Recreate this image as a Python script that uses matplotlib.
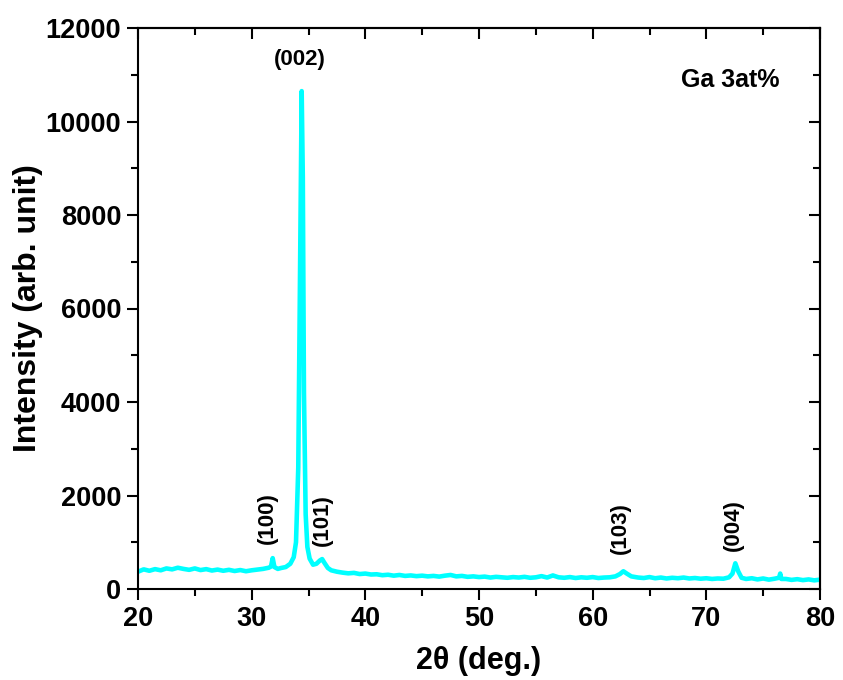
"""XRD pattern of Ga 3at% doped film, redrawn with matplotlib."""

import matplotlib
matplotlib.use('Agg')
import matplotlib.pyplot as plt
from matplotlib.ticker import MultipleLocator

plt.rcParams['font.family'] = ['Liberation Sans', 'DejaVu Sans']
plt.rcParams['font.weight'] = 'bold'

# 2-theta positions (deg.) and intensities
two_theta = [
    20.0, 20.5, 21.0, 21.5, 22.0, 22.5, 23.0, 23.5, 24.0, 24.5, 25.0, 25.5,
    26.0, 26.5, 27.0, 27.5, 28.0, 28.5, 29.0, 29.5, 30.0, 30.5, 31.0, 31.5,
    31.7, 31.85, 32.0, 32.3, 32.6, 33.0, 33.4, 33.7, 33.9, 34.1, 34.25, 34.4,
    34.5, 34.6, 34.75, 34.9, 35.1, 35.4, 35.7, 36.0, 36.2, 36.4, 36.7, 37.0,
    37.5,
    38.0, 38.5, 39.0, 39.5, 40.0, 40.5, 41.0, 41.5, 42.0, 42.5, 43.0, 43.5,
    44.0, 44.5, 45.0, 45.5, 46.0, 46.5, 47.0, 47.5, 48.0, 48.5, 49.0, 49.5,
    50.0, 50.5, 51.0, 51.5, 52.0, 52.5, 53.0, 53.5, 54.0, 54.5, 55.0, 55.5,
    56.0, 56.5, 57.0, 57.5, 58.0, 58.5, 59.0, 59.5, 60.0, 60.5, 61.0, 61.5,
    62.0, 62.4, 62.7, 63.0, 63.4,
    64.0, 64.5, 65.0, 65.5, 66.0, 66.5, 67.0, 67.5, 68.0, 68.5, 69.0, 69.5,
    70.0, 70.5, 71.0, 71.5, 72.0, 72.3, 72.55, 72.8, 73.1,
    73.5, 74.0, 74.5, 75.0, 75.5, 76.0, 76.4, 76.5, 76.6, 77.0, 77.5, 78.0,
    78.5, 79.0, 79.5, 80.0,
]
intensity = [
    370, 420, 390, 425, 400, 440, 420, 455, 430, 410, 440, 405,
    425, 395, 415, 390, 410, 385, 405, 380, 400, 415, 430, 455,
    480, 660, 470, 430, 450, 470, 540, 680, 1000, 2600, 6500, 10650,
    8800, 4200, 1600, 900, 650, 520, 540, 610, 640, 560, 450, 400,
    370,
    350, 335, 345, 320, 330, 310, 315, 295, 305, 285, 300, 280,
    290, 275, 285, 270, 280, 265, 285, 300, 270, 280, 260, 270,
    255, 265, 245, 260, 250, 240, 255, 245, 260, 240, 250, 275,
    245, 290, 250, 240, 255, 235, 250, 240, 255, 235, 245, 250,
    270, 320, 380, 330, 270,
    245, 235, 255, 230, 245, 225, 240, 230, 245, 225, 235, 220,
    230, 215, 225, 220, 250, 330, 550, 380, 240,
    215, 230, 205, 225, 200, 220, 240, 330, 215, 215, 195, 210,
    190, 205, 185, 200,
]

# peak labels and where they sit (data coords), vertical except (002)
peak_labels = ['(002)', '(100)', '(101)', '(103)', '(004)']
peak_x = [34.25, 31.35, 36.2, 62.4, 72.35]
peak_y = [11330, 1520, 1475, 1300, 1370]
peak_rot = [0, 90, 90, 90, 90]


def main():
    fig = plt.figure(figsize=(8.43, 6.8), dpi=100)
    ax = fig.add_axes([138 / 843, 91 / 680, 682 / 843, 561 / 680])

    ax.plot(two_theta, intensity, color='#00FFFF', linewidth=3.3)

    for txt, px, py, rot in zip(peak_labels, peak_x, peak_y, peak_rot):
        ax.text(px, py, txt, rotation=rot, ha='center', va='center',
                fontsize=16, fontweight='bold')
    ax.text(72.1, 10890, 'Ga 3at%', ha='center', va='center',
            fontsize=18, fontweight='bold')

    ax.set_xlim(20, 80)
    ax.set_ylim(0, 12000)
    ax.xaxis.set_major_locator(MultipleLocator(10))
    ax.xaxis.set_minor_locator(MultipleLocator(5))
    ax.yaxis.set_major_locator(MultipleLocator(2000))
    ax.yaxis.set_minor_locator(MultipleLocator(1000))

    ax.tick_params(which='both', direction='out', width=1.5,
                   labelsize=19.5, pad=4)
    ax.tick_params(which='major', length=8)
    ax.tick_params(which='minor', length=5)
    for lbl in ax.get_xticklabels() + ax.get_yticklabels():
        lbl.set_fontweight('bold')
    for sp in ax.spines.values():
        sp.set_linewidth(1.5)

    # mirrored ticks on top and right, pointing inward
    top = ax.secondary_xaxis('top')
    top.xaxis.set_major_locator(MultipleLocator(10))
    top.xaxis.set_minor_locator(MultipleLocator(5))
    top.tick_params(which='both', direction='in', width=1.5, labeltop=False)
    top.tick_params(which='major', length=8)
    top.tick_params(which='minor', length=5)
    right = ax.secondary_yaxis('right')
    right.yaxis.set_major_locator(MultipleLocator(2000))
    right.yaxis.set_minor_locator(MultipleLocator(1000))
    right.tick_params(which='both', direction='in', width=1.5, labelright=False)
    right.tick_params(which='major', length=8)
    right.tick_params(which='minor', length=5)
    top.spines['top'].set_linewidth(1.5)
    right.spines['right'].set_linewidth(1.5)

    ax.set_xlabel('2θ (deg.)', fontsize=22, fontweight='bold', labelpad=10)
    ax.set_ylabel('Intensity (arb. unit)', fontsize=23, fontweight='bold',
                  labelpad=2)

    fig.savefig('out.png', dpi=100)


if __name__ == '__main__':
    main()
